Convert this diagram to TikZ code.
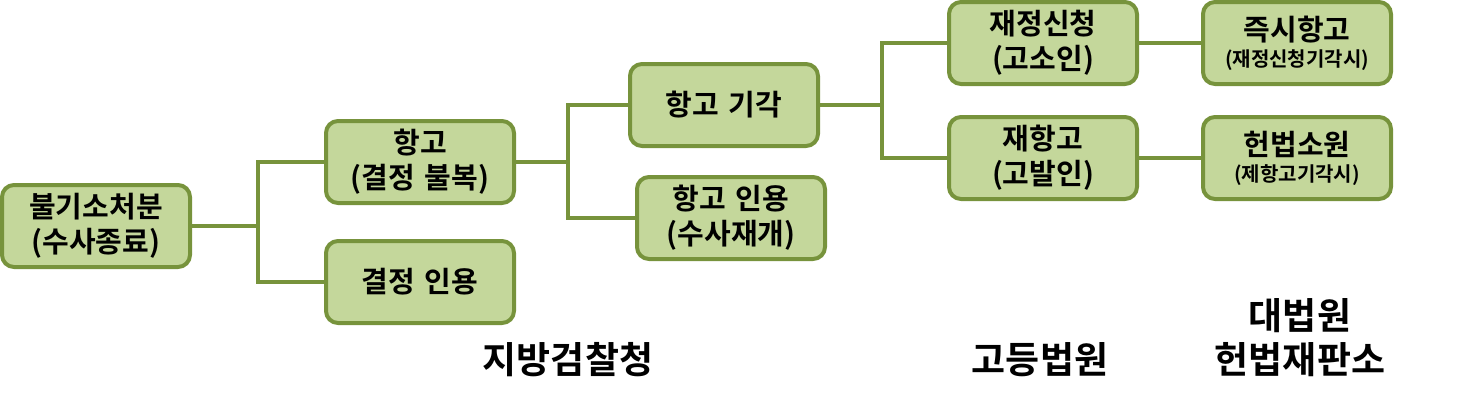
\documentclass[tikz,border=0pt]{standalone}
\usepackage{fontspec}
\setmainfont{Noto Sans CJK KR}[BoldFont={Noto Sans CJK KR Bold}]
\definecolor{boxfill}{HTML}{C4D79B}
\definecolor{boxline}{HTML}{77933C}

\tikzstyle{main}   = [inner sep=0pt, outer sep=0pt, rounded corners=6pt, text centered, minimum height=41pt, minimum width=94pt, text width=92pt]
\tikzstyle{cgreen} = [fill=boxfill, draw=boxline, line width=2pt]
\tikzstyle{step2}  = [main, cgreen, font=\bfseries\fontsize{14.5}{17.5}\selectfont]
\tikzstyle{link}   = [draw=boxline, line width=2pt]
\tikzstyle{court}  = [font=\bfseries\fontsize{18.5}{22}\selectfont, align=center, inner sep=0pt]
\newcommand{\smalltxt}[1]{\\[-4.5pt]{\fontsize{10}{11}\selectfont #1}}

\begin{document}
\begin{tikzpicture}[x=0.5pt, y=-0.5pt]
      \useasboundingbox (0,0) rectangle (1480,412);
      % boxes
      \node[step2] (nolaw)    at (96, 226)   {불기소처분\\(수사종료)};
      \node[step2] (appeal)   at (420, 162)  {항고\\(결정 불복)};
      \node[step2] (accept)   at (420, 282)  {결정 인용};
      \node[step2] (reject)   at (724, 105)  {항고 기각};
      \node[step2] (reopen)   at (731, 218)  {항고 인용\\(수사재개)};
      \node[step2] (ruling)   at (1043, 43)  {재정신청\\(고소인)};
      \node[step2] (reappeal) at (1043, 158) {재항고\\(고발인)};
      \node[step2] (quick)    at (1297, 43)  {즉시항고\smalltxt{(재정신청기각시)}};
      \node[step2] (consti)   at (1297, 158) {헌법소원\smalltxt{(제항고기각시)}};
      % links
      \draw[link] (nolaw.east) -- ++(68,0) coordinate (j1);
      \draw[link] (j1) |- (appeal.west);
      \draw[link] (j1) |- (accept.west);
      \draw[link] (appeal.east) -- ++(54,0) coordinate (j2);
      \draw[link] (j2) |- (reject.west);
      \draw[link] (j2) |- (reopen.west);
      \draw[link] (reject.east) -- ++(64,0) coordinate (j3);
      \draw[link] (j3) |- (ruling.west);
      \draw[link] (j3) |- (reappeal.west);
      \draw[link] (ruling) -- (quick);
      \draw[link] (reappeal) -- (consti);
      % courts
      \node[court] (dist)  at (568, 360)  {지방검찰청};
      \node[court] (high)  at (1040, 360) {고등법원};
      \node[court] (top)   at (1300, 316) {대법원};
      \node[court] (const) at (1300, 360) {헌법재판소};
\end{tikzpicture}
\end{document}
